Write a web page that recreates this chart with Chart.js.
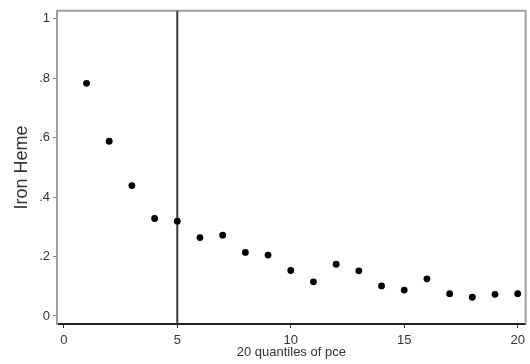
<!DOCTYPE html>
<html>
<head>
<meta charset="utf-8">
<script src="https://cdn.jsdelivr.net/npm/chart.js@4.4.1/dist/chart.umd.min.js"></script>
<style>
  html, body { margin: 0; padding: 0; background: #fff; }
  canvas { display: block; }
</style>
</head>
<body>
<canvas id="chart" width="530" height="364"></canvas>
<script>
// quantile index and mean iron heme per quantile
const quantiles = [1, 2, 3, 4, 5, 6, 7, 8, 9, 10, 11, 12, 13, 14, 15, 16, 17, 18, 19, 20];
const ironHeme = [0.783, 0.588, 0.439, 0.328, 0.319, 0.264, 0.272, 0.214, 0.205, 0.153,
                  0.115, 0.174, 0.152, 0.101, 0.087, 0.125, 0.075, 0.063, 0.073, 0.075];

const xTicks = [0, 5, 10, 15, 20];
const yTicks = [0, 0.2, 0.4, 0.6, 0.8, 1];
const yTickLabels = ['0', '.2', '.4', '.6', '.8', '1'];
const cutoff = 5;

const font = 'Liberation Sans, Arial, sans-serif';

// outline of the plot region plus the vertical reference line
const framePlugin = {
  id: 'frame',
  beforeDatasetsDraw(chart) {
    const { ctx, chartArea: a, scales } = chart;
    ctx.save();
    ctx.strokeStyle = '#a0a0a0';
    ctx.lineWidth = 2;
    ctx.beginPath();
    ctx.moveTo(a.left, a.top);
    ctx.lineTo(a.right, a.top);
    ctx.lineTo(a.right, a.bottom);
    ctx.stroke();

    const x = scales.x.getPixelForValue(cutoff);
    ctx.strokeStyle = '#3a3a3a';
    ctx.beginPath();
    ctx.moveTo(x, a.top);
    ctx.lineTo(x, a.bottom);
    ctx.stroke();
    ctx.restore();
  }
};

new Chart(document.getElementById('chart'), {
  type: 'scatter',
  data: {
    datasets: [{
      data: quantiles.map((q, i) => ({ x: q, y: ironHeme[i] })),
      backgroundColor: '#000',
      borderColor: '#000',
      pointRadius: 3.4,
      pointBorderWidth: 0
    }]
  },
  options: {
    responsive: false,
    animation: false,
    devicePixelRatio: 1,
    layout: { padding: { top: 10, right: 2, left: 0, bottom: 0 } },
    plugins: {
      legend: { display: false },
      tooltip: { enabled: false }
    },
    scales: {
      x: {
        type: 'linear',
        min: -0.3,
        max: 20.35,
        afterBuildTicks: s => { s.ticks = xTicks.map(v => ({ value: v })); },
        afterFit: s => { s.height = 40; },
        grid: { drawOnChartArea: false, drawTicks: true, tickLength: 4, color: '#333' },
        border: { color: '#222', width: 2 },
        ticks: { font: { family: font, size: 13 }, color: '#333', padding: 5 },
        title: {
          display: true,
          text: '20 quantiles of pce',
          font: { family: font, size: 13 },
          color: '#333',
          padding: { top: 0, bottom: 4 }
        }
      },
      y: {
        min: -0.027,
        max: 1.027,
        afterBuildTicks: s => { s.ticks = yTicks.map(v => ({ value: v })); },
        afterFit: s => { s.width = 57; },
        grid: { drawOnChartArea: false, drawTicks: true, tickLength: 4, color: '#888' },
        border: { color: '#a0a0a0', width: 2 },
        ticks: {
          font: { family: font, size: 13 },
          color: '#333',
          padding: 3,
          callback: (v, i) => yTickLabels[i]
        },
        title: {
          display: true,
          text: 'Iron Heme',
          font: { family: font, size: 18 },
          color: '#333',
          padding: { top: 11, bottom: 0 }
        }
      }
    }
  },
  plugins: [framePlugin]
});
</script>
</body>
</html>
